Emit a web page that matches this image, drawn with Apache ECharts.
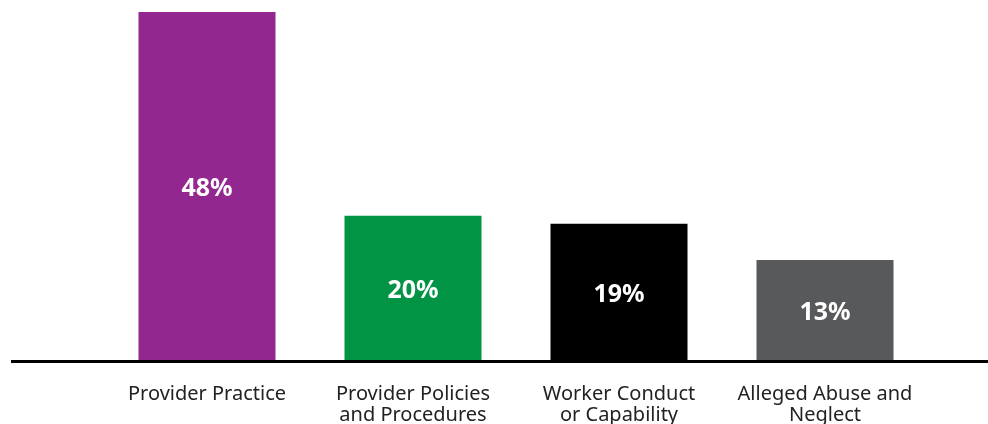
<!DOCTYPE html>
<html>
<head>
<meta charset="utf-8">
<script src="https://cdn.jsdelivr.net/npm/echarts@6/dist/echarts.min.js"></script>
<style>
  html, body { margin: 0; padding: 0; background: #fff; }
  #chart { width: 988px; height: 424px; }
</style>
</head>
<body>
<div id="chart"></div>
<script>
// categories and values
var categories = [
  'Provider Practice',
  'Provider Policies\nand Procedures',
  'Worker Conduct\nor Capability',
  'Alleged Abuse and\nNeglect'
]
var values = [48, 19.9, 18.8, 13.8]
var valueLabels = ['48%', '20%', '19%', '13%']
var colors = ['#92278f', '#009444', '#000000', '#58595b']

var chart = echarts.init(document.getElementById('chart'))

var option = {
  animation: false,
  grid: {
    top: 12,
    left: 104,
    right: 60,
    bottom: 64,
    outerBoundsMode: 'none'
  },
  xAxis: {
    type: 'category',
    data: categories,
    axisLine: { show: false },
    axisTick: { show: false },
    axisLabel: {
      interval: 0,
      margin: 24,
      fontFamily: 'Noto Sans',
      fontSize: 20,
      lineHeight: 21,
      color: '#222'
    }
  },
  yAxis: {
    type: 'value',
    min: 0,
    max: 48,
    show: false,
    splitLine: { show: false }
  },
  series: [
    {
      type: 'bar',
      barWidth: 137,
      data: values.map(function(v, i) {
        return { value: v, itemStyle: { color: colors[i] } }
      }),
      label: {
        show: true,
        position: 'inside',
        offset: [0, 3],
        color: '#fff',
        fontFamily: 'Noto Sans',
        fontWeight: 'bold',
        fontSize: 25,
        formatter: function(p) {
          return valueLabels[p.dataIndex]
        }
      }
    }
  ],
  // baseline runs past the plot area on both sides
  graphic: [
    {
      type: 'line',
      shape: { x1: 11, y1: 361.5, x2: 988, y2: 361.5 },
      style: { stroke: '#000', lineWidth: 3 }
    }
  ]
}

chart.setOption(option)
</script>
</body>
</html>
